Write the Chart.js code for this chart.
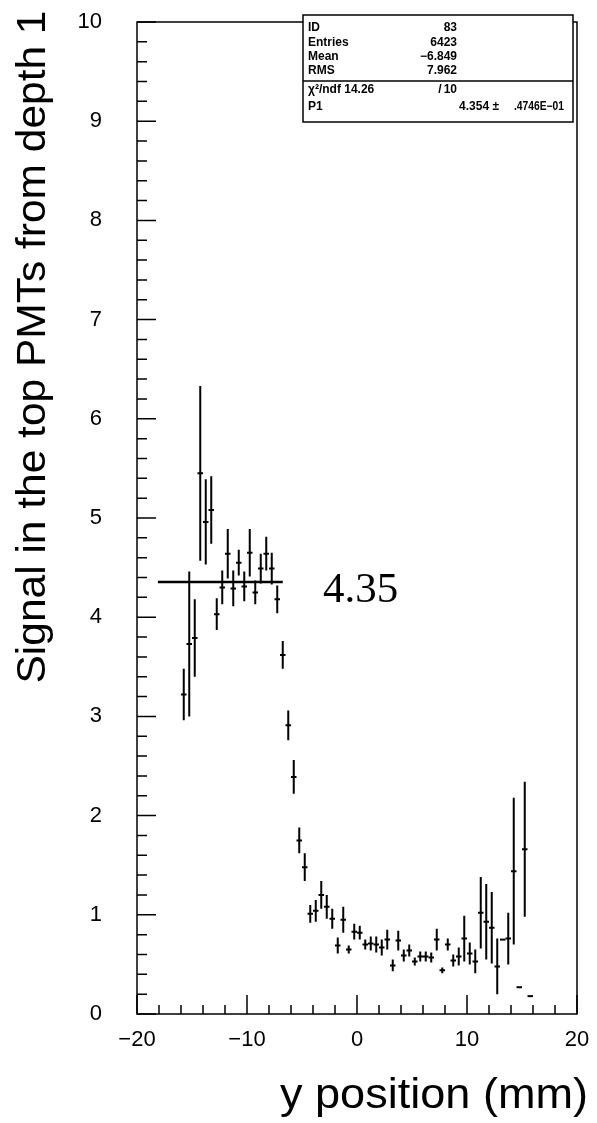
<!DOCTYPE html>
<html>
<head>
<meta charset="utf-8">
<script src="https://cdn.jsdelivr.net/npm/chart.js@4.4.1/dist/chart.umd.min.js"></script>
<style>
  html, body { margin: 0; padding: 0; background: #fff; }
  #plot { display: block; }
</style>
</head>
<body>
<canvas id="plot" width="597" height="1123"></canvas>
<script>
// bin centres (mm), 0.5 mm bins
const binX = [-15.75, -15.25, -14.75, -14.25, -13.75, -13.25, -12.75, -12.25, -11.75, -11.25,
  -10.75, -10.25, -9.75, -9.25, -8.75, -8.25, -7.75, -7.25, -6.75, -6.25,
  -5.75, -5.25, -4.75, -4.25, -3.75, -3.25, -2.75, -2.25, -1.75, -1.25,
  -0.75, -0.25, 0.25, 0.75, 1.25, 1.75, 2.25, 2.75, 3.25, 3.75,
  4.25, 4.75, 5.25, 5.75, 6.25, 6.75, 7.25, 7.75, 8.25, 8.75,
  9.25, 9.75, 10.25, 10.75, 11.25, 11.75, 12.25, 12.75, 13.25, 13.75,
  14.25, 14.75, 15.25, 15.75];

// signal in the top PMTs
const signal = [3.22, 3.73, 3.79, 5.45, 4.96, 5.08, 4.03, 4.30, 4.64, 4.29,
  4.55, 4.31, 4.65, 4.25, 4.49, 4.64, 4.49, 4.18, 3.62, 2.91,
  2.39, 1.75, 1.48, 1.01, 1.04, 1.20, 1.08, 0.96, 0.69, 0.95,
  0.65, 0.83, 0.82, 0.70, 0.71, 0.70, 0.67, 0.75, 0.49, 0.74,
  0.59, 0.64, 0.53, 0.58, 0.58, 0.57, 0.75, 0.44, 0.70, 0.54,
  0.58, 0.76, 0.61, 0.53, 1.02, 0.93, 0.87, 0.48, 0.75, 0.76,
  1.44, 0.27, 1.66, 0.18];

const signalErr = [0.26, 0.73, 0.39, 0.88, 0.43, 0.34, 0.16, 0.17, 0.25, 0.18,
  0.13, 0.15, 0.24, 0.12, 0.15, 0.17, 0.16, 0.14, 0.14, 0.15,
  0.17, 0.13, 0.14, 0.09, 0.11, 0.14, 0.12, 0.10, 0.08, 0.13,
  0.04, 0.08, 0.07, 0.05, 0.07, 0.08, 0.08, 0.10, 0.06, 0.10,
  0.06, 0.06, 0.04, 0.05, 0.05, 0.05, 0.11, 0.03, 0.06, 0.06,
  0.09, 0.23, 0.11, 0.12, 0.36, 0.38, 0.36, 0.28, 0, 0.26,
  0.74, 0, 0.68, 0];

const binHalfWidth = 0.25;

// constant fit p0
const fitX = [-18.1, -6.75];
const fitY = [4.354, 4.354];
const fitLabel = '4.35';

// stats box
const statNames = ['ID', 'Entries', 'Mean', 'RMS'];
const statValues = ['83', '6423', '\u22126.849', '7.962'];
const chiText = ['\u03c7\u00b2/ndf 14.26', '/', '10'];
const p1Text = ['P1', '4.354 \u00b1', '.4746E\u221201'];

const xMin = -20, xMax = 20, yMin = 0, yMax = 10;

const points = binX.map((x, i) => ({ x: x, y: signal[i] }));
const fitLine = fitX.map((x, i) => ({ x: x, y: fitY[i] }));

const SANS = '"Liberation Sans", Arial, Helvetica, sans-serif';

// error bars, frame, inner ticks, titles, stats box
const decorations = {
  id: 'decorations',
  afterDatasetsDraw(chart) {
    const ctx = chart.ctx;
    const xs = chart.scales.x, ys = chart.scales.y;
    const a = chart.chartArea;

    ctx.save();
    ctx.strokeStyle = '#000';
    ctx.lineCap = 'butt';

    // error bars
    ctx.lineWidth = 2;
    for (let i = 0; i < binX.length; i++) {
      const px = xs.getPixelForValue(binX[i]);
      const py = ys.getPixelForValue(signal[i]);
      ctx.beginPath();
      ctx.moveTo(xs.getPixelForValue(binX[i] - binHalfWidth), py);
      ctx.lineTo(xs.getPixelForValue(binX[i] + binHalfWidth), py);
      if (signalErr[i] > 0) {
        ctx.moveTo(px, ys.getPixelForValue(signal[i] - signalErr[i]));
        ctx.lineTo(px, ys.getPixelForValue(signal[i] + signalErr[i]));
      }
      ctx.stroke();
    }

    // frame
    ctx.lineWidth = 1.5;
    ctx.strokeRect(a.left, a.top, a.right - a.left, a.bottom - a.top);

    // y ticks, pointing into the plot
    ctx.beginPath();
    for (let v = 0; v <= 50; v++) {
      const py = ys.getPixelForValue(v / 5);
      const len = v % 5 === 0 ? 19 : 10;
      ctx.moveTo(a.left, py);
      ctx.lineTo(a.left + len, py);
    }
    // x ticks
    for (let v = xMin; v <= xMax; v += 2) {
      const px = xs.getPixelForValue(v);
      const len = v % 10 === 0 ? 19 : 9;
      ctx.moveTo(px, a.bottom);
      ctx.lineTo(px, a.bottom - len);
    }
    ctx.stroke();

    // fit value label
    ctx.fillStyle = '#000';
    ctx.font = '43px "Liberation Serif", "Times New Roman", serif';
    ctx.textAlign = 'left';
    ctx.textBaseline = 'alphabetic';
    ctx.fillText(fitLabel, 323, 602);

    // stats box
    const bx0 = 303, bx1 = 573, by0 = 15, by1 = 122, divY = 81;
    ctx.fillStyle = '#fff';
    ctx.fillRect(bx0, by0, bx1 - bx0, by1 - by0);
    ctx.lineWidth = 1.5;
    ctx.strokeRect(bx0, by0, bx1 - bx0, by1 - by0);
    ctx.beginPath();
    ctx.moveTo(bx0, divY);
    ctx.lineTo(bx1, divY);
    ctx.stroke();

    ctx.fillStyle = '#000';
    ctx.font = 'bold 12px ' + SANS;
    ctx.textBaseline = 'middle';
    const rows = [28, 43, 57, 71];
    statNames.forEach((n, i) => {
      ctx.textAlign = 'left';
      ctx.fillText(n, 308, rows[i]);
      ctx.textAlign = 'right';
      ctx.fillText(statValues[i], 457, rows[i]);
    });
    ctx.textAlign = 'left';
    ctx.fillText(chiText[0], 308, 90);
    ctx.textAlign = 'center';
    ctx.fillText(chiText[1], 440, 90);
    ctx.textAlign = 'right';
    ctx.fillText(chiText[2], 457, 90);
    ctx.textAlign = 'left';
    ctx.fillText(p1Text[0], 308, 107);
    ctx.textAlign = 'right';
    ctx.fillText(p1Text[1], 499, 107);
    ctx.textAlign = 'left';
    ctx.fillText(p1Text[2], 514, 107, 50);

    // axis titles
    ctx.font = '40px ' + SANS;
    ctx.textBaseline = 'alphabetic';
    ctx.textAlign = 'center';
    const yTitle = 'Signal in the top PMTs from depth 1';
    let w = ctx.measureText(yTitle).width;
    ctx.save();
    ctx.translate(45, 347);
    ctx.rotate(-Math.PI / 2);
    ctx.scale(673 / w, 1);
    ctx.fillText(yTitle, 0, 0);
    ctx.restore();

    const xTitle = 'y position (mm)';
    ctx.font = '42px ' + SANS;
    w = ctx.measureText(xTitle).width;
    ctx.save();
    ctx.translate(588, 1108);
    ctx.scale(308 / w, 1);
    ctx.textAlign = 'right';
    ctx.fillText(xTitle, 0, 0);
    ctx.restore();

    ctx.restore();
  }
};

const minusFmt = v => (v < 0 ? '\u2212' + Math.abs(v) : String(v));

new Chart(document.getElementById('plot'), {
  type: 'scatter',
  data: {
    datasets: [
      {
        label: 'signal',
        data: points,
        pointRadius: 0,
        pointHoverRadius: 0,
        showLine: false
      },
      {
        type: 'line',
        label: 'fit',
        data: fitLine,
        borderColor: '#000',
        borderWidth: 2.5,
        pointRadius: 0,
        fill: false
      }
    ]
  },
  options: {
    responsive: false,
    animation: false,
    events: [],
    layout: { padding: { left: 0, top: 22, right: 20, bottom: 0 } },
    plugins: { legend: { display: false }, tooltip: { enabled: false } },
    scales: {
      x: {
        type: 'linear',
        min: xMin, max: xMax,
        grid: { display: false, drawTicks: false },
        border: { display: false },
        ticks: {
          stepSize: 10,
          padding: 13,
          color: '#000',
          font: { family: SANS, size: 22 },
          maxRotation: 0,
          callback: minusFmt
        },
        afterFit: s => {
          s.height = 109;
          s.paddingLeft = 0;
          s.paddingRight = 0;
        }
      },
      y: {
        type: 'linear',
        min: yMin, max: yMax,
        grid: { display: false, drawTicks: false },
        border: { display: false },
        ticks: {
          stepSize: 1,
          padding: 35,
          color: '#000',
          font: { family: SANS, size: 22 },
          callback: minusFmt
        },
        afterFit: s => {
          s.width = 137;
          s.paddingTop = 0;
          s.paddingBottom = 0;
        }
      }
    }
  },
  plugins: [decorations]
});
</script>
</body>
</html>
